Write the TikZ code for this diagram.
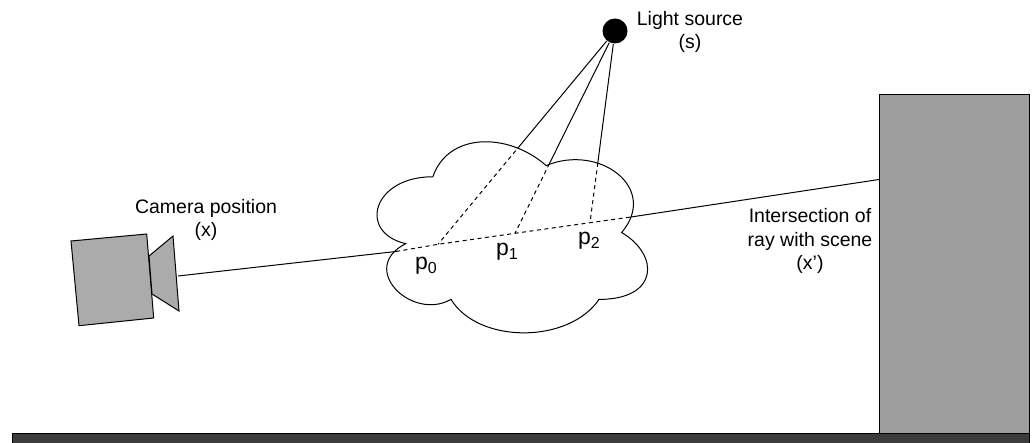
\documentclass[tikz,border=0pt]{standalone}
\usepackage{fontspec}
\setmainfont{Liberation Sans}
\definecolor{camgray}{HTML}{ABABAB}
\definecolor{wallgray}{HTML}{9E9E9E}
\definecolor{floorgray}{HTML}{3C3C3C}
\newcommand\pt[1]{p\raisebox{-4pt}{\fontsize{16}{16}\selectfont #1}}
\begin{document}
\begin{tikzpicture}[x=1pt, y=-1pt, line width=1pt,
  txt/.style={align=center, inner sep=0pt, font=\fontsize{19.5}{23.5}\selectfont},
  ptxt/.style={inner sep=0pt, font=\fontsize{23}{23}\selectfont},
  hidden/.style={dash pattern=on 4pt off 3.5pt}]
  \clip (0,0) rectangle (1033,443);

  % Floor and wall
  \draw[fill=floorgray] (12,433.5) rectangle (1029,450);
  \draw[fill=wallgray] (879,95) rectangle (1029,433.5);

  % Camera body and lens
  \draw[fill=camgray] (71,241) -- (146.7,234) -- (153.7,318) -- (79,325.7) -- cycle;
  \draw[fill=camgray] (149,256) -- (173,236) -- (179,311) -- (152,294) -- cycle;

  % Points along the ray
  \coordinate (cam) at (178,276);
  \coordinate (pin) at (396,251.5);
  \coordinate (p0) at (438,244.3);
  \coordinate (p1) at (515,233.3);
  \coordinate (p2) at (590,222.7);
  \coordinate (pout) at (631,217);
  \coordinate (hit) at (879,179.5);

  % Light source and its rays
  \node[circle, fill=black, minimum size=25, inner sep=0pt] (light) at (615,31) {};
  \foreach \p in {p0,p1,p2}
    \draw (light) -- (\p);

  % Cloud
  \begin{scope}[shift={(357.4,121)}, xscale=302, yscale=223]
    \path[fill=white, save path=\cloudshape]
      (0.25,0.25) .. controls (0.05,0.25) and (0,0.5) .. (0.16,0.55)
      .. controls (0,0.66) and (0.18,0.9) .. (0.31,0.8)
      .. controls (0.4,1) and (0.7,1) .. (0.8,0.8)
      .. controls (1,0.8) and (1,0.6) .. (0.875,0.5)
      .. controls (1,0.3) and (0.8,0.1) .. (0.625,0.2)
      .. controls (0.5,0.05) and (0.3,0.05) .. (0.25,0.25) -- cycle;
  \end{scope}
  \begin{scope}
    \clip[use path=\cloudshape];
    \foreach \p in {p0,p1,p2}
      \draw[hidden] (light) -- (\p);
  \end{scope}
  \draw[use path=\cloudshape];

  % Ray from camera to scene
  \draw (cam) -- (pin);
  \draw[hidden] (pin) -- (p0) -- (p1) -- (p2) -- (pout);
  \draw (pout) -- (hit);

  % Labels
  \node[txt] (camlabel) at (206,220) {Camera position\\(x)};
  \node[txt] (lightlabel) at (690,32) {Light source\\(s)};
  \node[txt] (hitlabel) at (810,241) {Intersection of\\ray with scene\\(x')};
  \node[ptxt] (lab0) at (426,266) {\pt{0}};
  \node[ptxt] (lab1) at (507,252) {\pt{1}};
  \node[ptxt] (lab2) at (589,241) {\pt{2}};
\end{tikzpicture}
\end{document}
